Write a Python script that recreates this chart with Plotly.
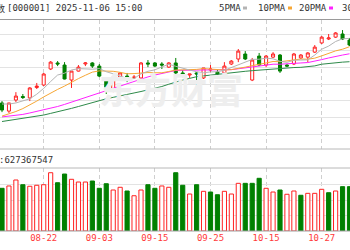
import plotly.graph_objects as go

# ---------------- data ----------------
dates = ["08-14", "08-15", "08-18", "08-19", "08-20", "08-21", "08-22", "08-25", "08-26", "08-27",
         "08-28", "08-29", "09-01", "09-02", "09-03", "09-04", "09-05", "09-08", "09-09", "09-10",
         "09-11", "09-12", "09-15", "09-16", "09-17", "09-18", "09-19", "09-22", "09-23", "09-24",
         "09-25", "09-26", "09-29", "09-30", "10-09", "10-10", "10-13", "10-14", "10-15", "10-16",
         "10-17", "10-20", "10-21", "10-22", "10-23", "10-24", "10-27", "10-28", "10-29", "10-30",
         "10-31"]
tick_labels = ["08-22", "09-03", "09-15", "09-25", "10-15", "10-27"]

opens = [3669, 3630, 3683, 3700, 3693, 3743, 3755, 3832, 3861, 3851,
         3779, 3822, 3856, 3861, 3846, 3789, 3736, 3793, 3798, 3789,
         3789, 3861, 3861, 3856, 3841, 3861, 3813, 3803, 3813, 3789,
         3827, 3817, 3813, 3856, 3880, 3904, 3779, 3894, 3851, 3889,
         3899, 3851, 3856, 3885, 3889, 3913, 3957, 3976, 3985, 4000,
         3971]
highs = [3678, 3669, 3721, 3712, 3745, 3765, 3813, 3870, 3870, 3865,
         3822, 3851, 3865, 3865, 3856, 3791, 3798, 3817, 3813, 3803,
         3865, 3875, 3865, 3865, 3865, 3885, 3827, 3808, 3817, 3837,
         3851, 3832, 3865, 3875, 3928, 3918, 3885, 3909, 3899, 3913,
         3904, 3856, 3909, 3904, 3913, 3947, 3990, 4000, 4009, 4019,
         3981]
lows = [3625, 3621, 3673, 3688, 3678, 3736, 3750, 3827, 3846, 3782,
        3741, 3820, 3846, 3837, 3793, 3712, 3721, 3789, 3769, 3786,
        3784, 3841, 3841, 3832, 3837, 3793, 3793, 3789, 3755, 3784,
        3817, 3803, 3793, 3851, 3865, 3875, 3774, 3846, 3841, 3885,
        3813, 3841, 3851, 3880, 3865, 3909, 3952, 3971, 3981, 3971,
        3942]
closes = [3635, 3669, 3702, 3695, 3741, 3750, 3808, 3865, 3856, 3784,
          3822, 3841, 3861, 3846, 3798, 3745, 3793, 3813, 3784, 3793,
          3861, 3856, 3846, 3851, 3861, 3813, 3803, 3808, 3808, 3837,
          3832, 3808, 3846, 3870, 3918, 3880, 3875, 3851, 3894, 3904,
          3822, 3846, 3904, 3899, 3909, 3937, 3985, 3981, 4005, 3976,
          3947]

ma5 = [3664, 3664, 3669, 3678, 3689, 3711, 3739, 3772, 3803, 3812,
       3827, 3834, 3833, 3831, 3834, 3819, 3809, 3799, 3787, 3786,
       3809, 3821, 3828, 3842, 3855, 3845, 3835, 3827, 3819, 3814,
       3818, 3819, 3826, 3839, 3855, 3865, 3878, 3879, 3884, 3881,
       3869, 3864, 3874, 3875, 3876, 3899, 3927, 3942, 3964, 3977,
       3979]
ma10 = [3606, 3616, 3628, 3642, 3659, 3678, 3698, 3717, 3734, 3750,
        3769, 3786, 3802, 3817, 3823, 3823, 3821, 3816, 3809, 3810,
        3814, 3815, 3814, 3814, 3820, 3827, 3828, 3828, 3830, 3834,
        3831, 3827, 3827, 3829, 3834, 3841, 3848, 3853, 3861, 3868,
        3867, 3871, 3877, 3880, 3879, 3884, 3895, 3908, 3919, 3927,
        3939]
ma20 = [3602, 3605, 3610, 3614, 3621, 3628, 3635, 3643, 3652, 3662,
        3673, 3684, 3695, 3707, 3719, 3730, 3741, 3751, 3762, 3774,
        3784, 3794, 3803, 3811, 3819, 3825, 3826, 3826, 3826, 3826,
        3827, 3827, 3827, 3829, 3833, 3838, 3842, 3845, 3850, 3855,
        3855, 3856, 3858, 3861, 3863, 3869, 3877, 3885, 3893, 3899,
        3905]
ma30 = [3580, 3585, 3588, 3593, 3599, 3606, 3611, 3619, 3626, 3633,
        3643, 3652, 3662, 3672, 3682, 3689, 3696, 3702, 3709, 3717,
        3724, 3731, 3739, 3748, 3759, 3770, 3779, 3787, 3795, 3799,
        3803, 3808, 3812, 3815, 3818, 3821, 3824, 3827, 3830, 3832,
        3835, 3837, 3839, 3840, 3842, 3847, 3855, 3859, 3863, 3865,
        3867]

# volume in 100 million lots; 1 = up day (red), 0 = down day (green)
volumes = [5.51, 5.81, 6.58, 5.97, 5.77, 5.90, 5.97, 7.52, 6.23, 7.35,
           6.67, 6.32, 6.32, 6.45, 5.51, 6.10, 5.29, 5.64, 5.16, 4.55,
           5.29, 5.97, 5.51, 5.81, 5.64, 7.52, 5.90, 4.77, 5.97, 5.12,
           5.03, 4.68, 5.12, 4.77, 6.15, 6.15, 6.15, 6.80, 5.51, 5.03,
           5.29, 4.74, 5.16, 4.61, 4.86, 4.86, 5.38, 4.94, 5.16, 5.72,
           5.72]
vol_up = [0, 1, 1, 0, 1, 1, 1, 1, 0, 0,
          1, 1, 1, 0, 0, 0, 1, 1, 0, 1,
          1, 0, 0, 1, 1, 0, 0, 1, 0, 1,
          0, 0, 1, 1, 1, 0, 0, 0, 1, 1,
          0, 1, 1, 0, 1, 1, 1, 0, 1, 0,
          0]

title_name = "上证指数"
title_rest = "[000001] 2025-11-06 15:00"
vol_label = ":627367547"
ma_names = ["5PMA", "10PMA", "20PMA", "30PMA"]
watermark = "东方财富"

# ---------------- styling ----------------
W, H = 350, 250
RED = "#ff2020"
GREEN = "#008000"
MA_COLORS = ["#b4b4b4", "#f7a735", "#ff22ff", "#2e8a4a"]
MONO = "DejaVu Sans Mono, Noto Sans CJK SC, monospace"
TXT = "#333333"


def px_y(p):
    return 1 - p / H


def px_x(p):
    return p / W


idx = list(range(len(dates)))
tick_pos = [dates.index(t) for t in tick_labels]
step = 6.95
x0 = -2 / step
x1 = x0 + W / step

fig = go.Figure()

fig.add_trace(go.Candlestick(
    x=idx, open=opens, high=highs, low=lows, close=closes,
    increasing=dict(line=dict(color=RED, width=1), fillcolor="white"),
    decreasing=dict(line=dict(color=GREEN, width=1), fillcolor=GREEN),
    whiskerwidth=0, xaxis="x", yaxis="y", showlegend=False, hoverinfo="skip"))

for arr, col in zip([ma30, ma20, ma10, ma5], MA_COLORS[::-1]):
    fig.add_trace(go.Scatter(x=idx, y=arr, mode="lines", line=dict(color=col, width=1),
                             xaxis="x", yaxis="y", showlegend=False, hoverinfo="skip"))

fig.add_trace(go.Bar(
    x=idx, y=volumes, width=0.6,
    marker=dict(color=["white" if u else GREEN for u in vol_up],
                line=dict(color=[RED if u else GREEN for u in vol_up], width=1)),
    xaxis="x2", yaxis="y2", showlegend=False, hoverinfo="skip"))

grid_x = dict(showgrid=True, gridcolor="#cfcfcf", griddash="4px,3px", gridwidth=1,
              zeroline=False, showline=False, ticks="")

fig.update_layout(
    width=W, height=H, margin=dict(l=0, r=0, t=0, b=0),
    paper_bgcolor="white", plot_bgcolor="white", showlegend=False,
    boxgap=0.38, bargap=0.4,
    xaxis=dict(domain=[0, 1], range=[x0, x1], anchor="y", tickvals=tick_pos,
               showticklabels=False, rangeslider=dict(visible=False), **grid_x),
    xaxis2=dict(domain=[0, 1], range=[x0, x1], anchor="y2", matches="x",
                tickvals=tick_pos, ticktext=tick_labels,
                tickfont=dict(family=MONO, size=9, color="#ff3a3a"), **grid_x),
    yaxis=dict(domain=[px_y(149), px_y(20)], range=[3448, 4067.2],
               tickvals=[3520, 3600, 3680, 3760, 3840, 3920, 4000],
               showticklabels=False, gridcolor="#e3e3e3", zeroline=False, ticks=""),
    yaxis2=dict(domain=[px_y(231), px_y(168)], range=[0, 63 * 2 / 15.5],
                tickvals=[2, 4, 6], showticklabels=False, gridcolor="#e3e3e3",
                zeroline=False, ticks=""),
)

# panel border lines
shapes = []
for p, c in [(19.5, "#9a9a9a"), (149, "#b8b8b8"), (168, "#b8b8b8"), (231, "#a0a0a0")]:
    shapes.append(dict(type="line", xref="paper", yref="paper", x0=0, x1=1,
                       y0=px_y(p), y1=px_y(p), line=dict(color=c, width=1), layer="above"))
# legend swatches
for xs, col in zip([243, 288, 329], MA_COLORS[:3]):
    shapes.append(dict(type="rect", xref="paper", yref="paper", x0=px_x(xs), x1=px_x(xs + 4),
                       y0=px_y(9.5), y1=px_y(6.5), fillcolor=col, line=dict(width=0)))
fig.update_layout(shapes=shapes)

ann = []
ann.append(dict(text=title_name, x=px_x(6), y=px_y(8), xref="paper", yref="paper",
                xanchor="right", yanchor="middle", showarrow=False,
                font=dict(family=MONO, size=9, color=TXT), borderpad=0))
ann.append(dict(text=title_rest, x=px_x(6), y=px_y(8), xref="paper", yref="paper",
                xanchor="left", yanchor="middle", showarrow=False,
                font=dict(family=MONO, size=9, color=TXT), borderpad=0))
for name, xs in zip(ma_names, [218, 256.5, 297.5, 341]):
    ann.append(dict(text=name, x=px_x(xs), y=px_y(8), xref="paper", yref="paper",
                    xanchor="left", yanchor="middle", showarrow=False,
                    font=dict(family=MONO, size=9, color=TXT), borderpad=0))
ann.append(dict(text=vol_label, x=px_x(-1.7), y=px_y(159.5), xref="paper", yref="paper",
                xanchor="left", yanchor="middle", showarrow=False,
                font=dict(family=MONO, size=9, color=TXT), borderpad=0))
# watermark
ann.append(dict(text="<b>" + watermark + "</b>", x=px_x(171), y=px_y(88), xref="paper", yref="paper",
                xanchor="center", yanchor="middle", showarrow=False,
                font=dict(family="Noto Sans CJK SC", size=36, color="#eeeeee")))
fig.update_layout(annotations=ann)

fig.write_html("out.html")
